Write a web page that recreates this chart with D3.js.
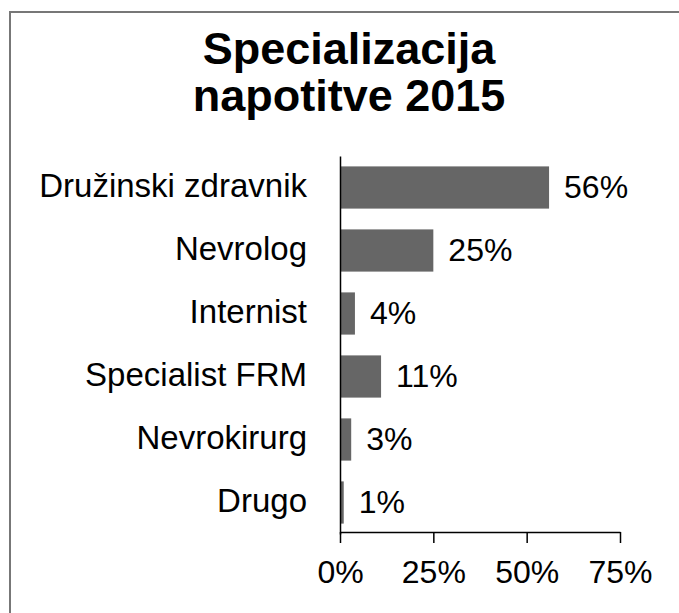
<!DOCTYPE html>
<html><head><meta charset="utf-8">
<script src="https://cdn.jsdelivr.net/npm/d3@7"></script>
<style>body{margin:0;background:#fff}svg{display:block}</style>
</head><body>
<script>
const categories = ["Družinski zdravnik","Nevrolog","Internist","Specialist FRM","Nevrokirurg","Drugo"];
const values = [56,25,4,11,3,1];
const tickValues = [0,25,50,75];
const titleLines = ["Specializacija","napotitve 2015"];

const W=679,H=613;
const svg=d3.select("body").append("svg").attr("width",W).attr("height",H);
svg.append("rect").attr("x",10).attr("y",12).attr("width",W+20).attr("height",H+20)
  .attr("fill","#fff").attr("stroke","#777").attr("stroke-width",2);

const font="'Liberation Sans', Arial, sans-serif";
const x=d3.scaleLinear().domain([0,75]).range([340,620]);
const y=d3.scaleBand().domain(categories).range([156,534]).paddingInner(0.33).paddingOuter(0.165);

svg.append("g").selectAll("text").data(titleLines).join("text")
  .attr("x",349).attr("y",(d,i)=>64+i*47).attr("text-anchor","middle")
  .attr("font-family",font).attr("font-weight","bold").attr("font-size",45).attr("fill","#000").text(d=>d);

svg.append("g").selectAll("rect").data(values).join("rect")
  .attr("x",x(0)).attr("y",(d,i)=>y(categories[i])).attr("width",d=>x(d)-x(0))
  .attr("height",y.bandwidth()).attr("fill","#666");

svg.append("g").selectAll("text").data(values).join("text")
  .attr("x",d=>x(d)+15).attr("y",(d,i)=>y(categories[i])+y.bandwidth()/2).attr("dy","0.32em")
  .attr("font-family",font).attr("font-size",32).attr("fill","#000").text(d=>d+"%");

svg.append("g").selectAll("text").data(categories).join("text")
  .attr("x",307).attr("y",d=>y(d)+y.bandwidth()/2).attr("dy","0.3em").attr("text-anchor","end")
  .attr("font-family",font).attr("font-size",33).attr("fill","#000").text(d=>d);

const ya=svg.append("g").attr("transform","translate(340,0)")
  .call(d3.axisLeft(y).tickSize(0).tickFormat(""));
ya.select(".domain").attr("stroke","#000").attr("stroke-width",1.5);

const xa=svg.append("g").attr("transform","translate(0,532)")
  .call(d3.axisBottom(x).tickValues(tickValues).tickSize(11).tickSizeOuter(0).tickFormat(d=>d+"%"));
xa.select(".domain").attr("stroke","#000").attr("stroke-width",1.5);
xa.selectAll("line").attr("stroke","#000").attr("stroke-width",1.5);
xa.selectAll("text").attr("font-family",font).attr("font-size",32).attr("fill","#000").attr("y",51).attr("dy",0);
</script>
</body></html>
